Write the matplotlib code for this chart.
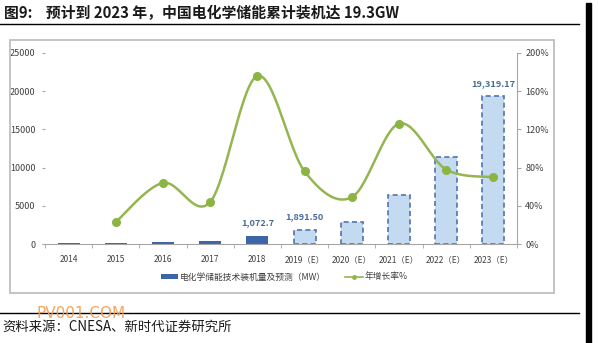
import numpy as np
import matplotlib
matplotlib.use("Agg")
import matplotlib.pyplot as plt
from matplotlib.patches import Rectangle, Patch
from matplotlib.lines import Line2D

plt.rcParams['font.family'] = ['Noto Sans CJK SC', 'DejaVu Sans']

# data
years = ['2014', '2015', '2016', '2017', '2018',
         '2019（E）', '2020（E）', '2021（E）', '2022（E）', '2023（E）']
capacity_mw = [135, 165, 270, 389.8, 1072.7, 1891.50, 2820, 6370, 11340, 19319.17]
growth_pct = [None, 23, 64, 44, 176, 76, 49, 126, 78, 70]
n_actual = 5  # 2014-2018 are actual, the rest forecast
value_fmt = {4: '{:,.1f}', 5: '{:,.2f}', 9: '{:,.2f}'}

title = '图9:    预计到 2023 年，中国电化学储能累计装机达 19.3GW'
bar_label = '电化学储能技术装机量及预测（MW）'
line_label = '年增长率%'
source = '资料来源：CNESA、新时代证券研究所'

W, H = 598, 343
def fx(px):
    return px / W
def fy(py):
    return 1 - py / H

dark_blue = '#3d66a8'
light_blue = '#c3daf0'
edge_blue = '#5274aa'
green = '#95b552'
marker_green = '#8bb443'
grey = '#a6a6a6'
text_col = '#404040'


def catmull_rom(xs, ys, n=30):
    pts = np.column_stack([xs, ys]).astype(float)
    pts = np.vstack([pts[0], pts, pts[-1]])
    out = []
    t = np.linspace(0, 1, n)[:, None]
    for i in range(1, len(pts) - 2):
        p0, p1, p2, p3 = pts[i - 1], pts[i], pts[i + 1], pts[i + 2]
        seg = 0.5 * (2 * p1 + (-p0 + p2) * t
                     + (2 * p0 - 5 * p1 + 4 * p2 - p3) * t ** 2
                     + (-p0 + 3 * p1 - 3 * p2 + p3) * t ** 3)
        out.append(seg if i == 1 else seg[1:])
    out = np.vstack(out)
    return out[:, 0], out[:, 1]


fig = plt.figure(figsize=(W / 100, H / 100), dpi=100)
fig.patch.set_facecolor('white')

ax = fig.add_axes([fx(45), fy(244), fx(517) - fx(45), fy(53) - fy(244)])
x = np.arange(len(years))

for i, v in enumerate(capacity_mw):
    if i < n_actual:
        ax.bar(x[i], v, width=0.47, color=dark_blue, zorder=2)
    else:
        ax.bar(x[i], v, width=0.47, color=light_blue, edgecolor=edge_blue,
               linewidth=1.2, linestyle=(0, (3, 2)), zorder=2)

for i, fmt in value_fmt.items():
    ax.annotate(fmt.format(capacity_mw[i]), (x[i], capacity_mw[i]),
                xytext=(0, 9.5), textcoords='offset points',
                ha='center', va='center', fontsize=6.6, fontweight='bold',
                color='#4a6b9a')

ax.set_xlim(-0.5, len(years) - 0.5)
ax.set_ylim(0, 25000)
ax.set_yticks(np.arange(0, 25001, 5000))
ax.set_xticks(x)
ax.set_xticklabels(years)
ax.set_xticks(np.arange(-0.5, len(years), 1), minor=True)
ax.tick_params(axis='x', which='major', length=0, labelsize=6, colors=text_col, pad=8)
ax.tick_params(axis='x', which='minor', length=3, color=grey, direction='out')
ax.tick_params(axis='y', length=2, color=grey, labelsize=6.5, labelcolor=text_col, pad=5)
for s in ['top', 'right', 'left']:
    ax.spines[s].set_visible(False)
ax.spines['bottom'].set_color(grey)
ax.set_facecolor('none')

ax2 = ax.twinx()
gx = [x[i] for i, g in enumerate(growth_pct) if g is not None]
gy = [g for g in growth_pct if g is not None]
sx, sy = catmull_rom(gx, gy)
ax2.plot(sx, sy, color=green, linewidth=1.8, zorder=3)
ax2.plot(gx, gy, 'o', color=marker_green, markersize=5.5, zorder=4)
ax2.set_ylim(0, 200)
ax2.set_yticks(np.arange(0, 201, 40))
ax2.set_yticklabels([f'{v}%' for v in range(0, 201, 40)])
ax2.tick_params(axis='y', length=3, color=grey, labelsize=6.5, labelcolor=text_col, pad=3)
for s in ['top', 'left', 'bottom']:
    ax2.spines[s].set_visible(False)
ax2.spines['right'].set_color(grey)

handles = [Patch(facecolor=dark_blue, edgecolor='none'),
           Line2D([0], [0], color=green, linewidth=1.2, marker='o',
                  markersize=2.5, markerfacecolor=marker_green)]
fig.legend(handles, [bar_label, line_label], loc='center',
           bbox_to_anchor=(fx(284), fy(277)), ncol=2, frameon=False,
           fontsize=6.3, handlelength=2.0, handleheight=0.5,
           handletextpad=0.2, columnspacing=2.2, labelcolor=text_col)

# chart frame, rules and page elements
fig.patches.append(Rectangle((fx(10), fy(293)), fx(554) - fx(10), fy(40) - fy(293),
                             transform=fig.transFigure, fill=False,
                             edgecolor='#bfbfbf', linewidth=1.3))
fig.add_artist(Line2D([0, fx(579)], [fy(24), fy(24)], color='black', linewidth=1.0))
fig.add_artist(Line2D([0, fx(579)], [fy(313), fy(313)], color='black', linewidth=1.0))
fig.patches.append(Rectangle((fx(586), 0), fx(5), fy(3),
                             transform=fig.transFigure, color='black'))

fig.text(fx(4), fy(13), title, fontsize=10.7, fontweight='bold',
         color='#1a1a1a', va='center', ha='left')
fig.text(fx(2), fy(327), source, fontsize=9.6, color='#1a1a1a',
         va='center', ha='left')
fig.text(fx(37), fy(313), 'PV001.COM', fontsize=11, color='#f59a4c',
         alpha=0.9, va='center', ha='left', family='DejaVu Sans')

fig.savefig('out.png', dpi=100)
